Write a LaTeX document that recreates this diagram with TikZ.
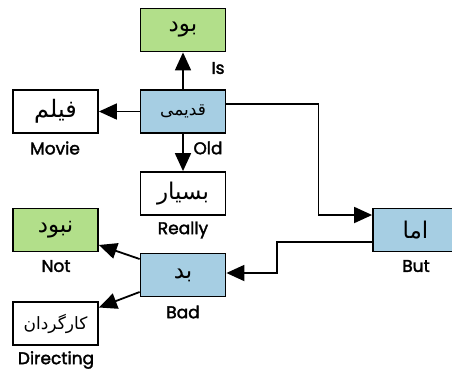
\documentclass[tikz,border=0pt]{standalone}
\usepackage{fontspec}
\setmainfont{Poppins}
\newfontfamily\glossfont{Poppins}[FakeBold=2]
\newfontfamily\arabicfont[Script=Arabic]{DejaVu Sans}
\TeXXeTstate=1
\usetikzlibrary{arrows.meta}
\definecolor{boxgreen}{HTML}{B2DF8A}
\definecolor{boxblue}{HTML}{A6CEE3}
\begin{document}
\begin{tikzpicture}
[x=1pt,y=-1pt,
  nodedecorate/.style={shape=rectangle,draw,line width=1.8pt,
    minimum width=85pt,minimum height=43pt,inner sep=0pt},%
  labeldecorate/.style={inner sep=0pt,font=\glossfont\fontsize{17}{19}\selectfont},%
  linedecorate/.style={-{Triangle[length=18pt,width=16pt]},line width=1.8pt}]
\useasboundingbox (0,0) rectangle (452,373);
%% word boxes
\foreach \nodename/\x/\y/\fillcol/\sz/\word in {bud/183/30/boxgreen/23/بود,
  qadimi/183/111.5/boxblue/17/قدیمی, film/55.5/111.5/white/24/فیلم,
  besyar/183/193.5/white/23/بسیار, nabud/55.5/230/boxgreen/23/نبود,
  bad/183/275/boxblue/23/بد, kargardan/55.5/323.5/white/17/کارگردان,
  amma/415.5/230/boxblue/23/اما} {
  \node (\nodename) at (\x,\y) [nodedecorate,fill=\fillcol]
    {\arabicfont\fontsize{\sz}{\sz}\selectfont\beginR\word\endR};
}
%% glosses
\foreach \labelname/\x/\y/\word in {is/218/68/Is, old/208/148/Old,
  movie/55/148/Movie, really/183/230/Really, not/56/266/Not,
  badgloss/183/312/Bad, directing/56/360/Directing, but/416/266/But} {
  \node (\labelname) at (\x,\y) [labeldecorate] {\word};
}
%% edges
\path
\foreach \startnode/\endnode in {qadimi/bud, qadimi/film, qadimi/besyar} {
  (\startnode) edge[linedecorate] (\endnode)
};
\draw[linedecorate] ([yshift=7.5pt]qadimi.east) -- ++(92,0)
  |- ([yshift=15pt]amma.west);
\draw[linedecorate] ([yshift=-12pt]amma.west) -- ++(-95,0)
  |- ([yshift=2pt]bad.east);
\draw[linedecorate] ([yshift=16pt]bad.west) -- ([yshift=-15pt]nabud.east);
\draw[linedecorate] ([yshift=-17pt]bad.west) -- ([yshift=16pt]kargardan.east);
\end{tikzpicture}
\end{document}
